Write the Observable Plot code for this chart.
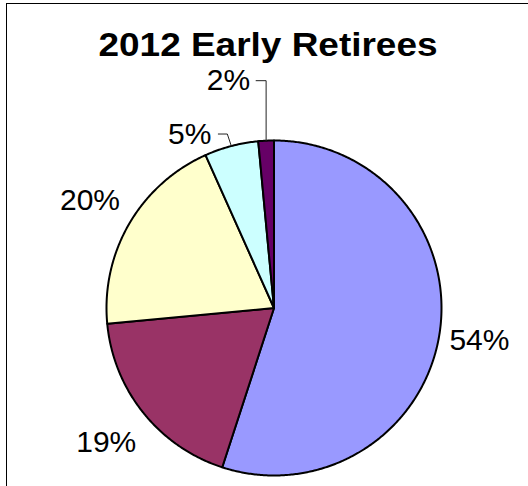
<!DOCTYPE html>
<html>
<head>
<meta charset="utf-8">
<script src="https://cdn.jsdelivr.net/npm/d3@7"></script>
<script src="https://cdn.jsdelivr.net/npm/@observablehq/plot@0.6"></script>
<style>
  html, body { margin: 0; padding: 0; background: #fff; }
  #wrap { position: relative; width: 528px; height: 486px; overflow: hidden; background: #fff; }
  #border { position: absolute; left: 6px; top: 3px; width: 560px; height: 560px; border: 1.5px solid #000; box-sizing: border-box; }
  #title { position: absolute; left: 6px; width: 524px; top: 28px; text-align: center;
           font-family: "Liberation Sans", Arial, sans-serif; font-weight: bold; font-size: 33px; line-height: 1; color: #000;
           transform: scaleX(1.12); transform-origin: 50% 50%; }
  #chart { position: absolute; left: 0; top: 0; }
  #chart svg { overflow: visible; background: transparent; }
</style>
</head>
<body>
<div id="wrap">
  <div id="border"></div>
  <div id="chart"></div>
  <div id="title">2012 Early Retirees</div>
</div>
<script>
// ---- data ----
const categories = ["Group 1", "Group 2", "Group 3", "Group 4", "Group 5"];
const shares = [55.0, 18.5, 19.8, 5.2, 1.5];
const labels = ["54%", "19%", "20%", "5%", "2%"];
const colors = ["#9999FF", "#993366", "#FFFFCC", "#CCFFFF", "#660066"];

// ---- layout ----
const W = 528, H = 486;
const margin = {top: 140, bottom: 11, left: 106, right: 87};
const rPx = (W - margin.left - margin.right) / 2;
const fontFamily = "Liberation Sans, Arial, sans-serif";
const labelSize = 30;
// radial distance (px) of label centres for slices without a callout
const labelRadius = {0: 208, 1: 215, 2: 213};
// callout leader settings (px), by slice index
const callouts = {3: {rise: 12, lean: 4, run: 9, gap: 7}, 4: {rise: 60, lean: 0, run: 10, gap: 6}};

const arcs = d3.pie().sort(null).value(d => d)(shares);

// slice polygons in unit coordinates (y up)
const poly = [];
arcs.forEach((a, i) => {
  const cat = categories[i];
  poly.push({cat, x: 0, y: 0});
  const n = Math.max(2, Math.ceil((a.endAngle - a.startAngle) / (Math.PI / 360)));
  for (let k = 0; k <= n; k++) {
    const t = a.startAngle + (a.endAngle - a.startAngle) * k / n;
    poly.push({cat, x: Math.sin(t), y: Math.cos(t)});
  }
  poly.push({cat, x: 0, y: 0});
});

const mainLabels = [], calloutLabels = [], leaders = [];
arcs.forEach((a, i) => {
  const m = (a.startAngle + a.endAngle) / 2;
  const sx = Math.sin(m), sy = Math.cos(m);
  if (callouts[i]) {
    const c = callouts[i];
    const A = {x: sx, y: sy};
    const E = {x: A.x - c.lean / rPx, y: A.y + c.rise / rPx};
    const L = {x: E.x - c.run / rPx, y: E.y};
    leaders.push({id: i, x: A.x, y: A.y}, {id: i, x: E.x, y: E.y}, {id: i, x: L.x, y: L.y});
    calloutLabels.push({x: L.x - c.gap / rPx, y: L.y, text: labels[i]});
  } else {
    const d = labelRadius[i] / rPx;
    mainLabels.push({x: sx * d, y: sy * d, text: labels[i]});
  }
});

const plot = Plot.plot({
  width: W,
  height: H,
  marginTop: margin.top,
  marginBottom: margin.bottom,
  marginLeft: margin.left,
  marginRight: margin.right,
  x: {domain: [-1, 1], axis: null},
  y: {domain: [-1, 1], axis: null},
  color: {domain: categories, range: colors},
  style: {background: "transparent", fontFamily},
  marks: [
    Plot.line(poly, {x: "x", y: "y", z: "cat", fill: "cat", stroke: "#000", strokeWidth: 2, strokeLinejoin: "round", curve: "linear"}),
    Plot.line(leaders, {x: "x", y: "y", z: "id", stroke: "#222", strokeWidth: 1, curve: "linear"}),
    Plot.text(mainLabels, {x: "x", y: "y", text: "text", textAnchor: "middle", lineAnchor: "middle", fontSize: labelSize, fill: "#000"}),
    Plot.text(calloutLabels, {x: "x", y: "y", text: "text", textAnchor: "end", lineAnchor: "middle", fontSize: labelSize, fill: "#000"})
  ]
});
document.getElementById("chart").appendChild(plot);
</script>
</body>
</html>
